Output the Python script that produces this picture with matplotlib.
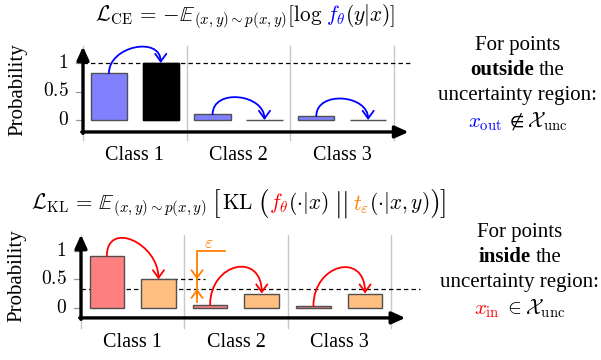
import matplotlib
matplotlib.use("Agg")
import matplotlib.pyplot as plt
from matplotlib.path import Path
from matplotlib.patches import FancyArrowPatch
from matplotlib.transforms import IdentityTransform

plt.rcParams['mathtext.fontset'] = 'cm'
plt.rcParams['font.family'] = ['Liberation Serif', 'DejaVu Serif']

# ---------------- data ----------------
classes = ["Class 1", "Class 2", "Class 3"]
ce_pred = [0.82, 0.10, 0.07]      # f_theta (outside region)
ce_target = [1.0, 0.0, 0.0]       # one-hot target
kl_pred = [0.91, 0.05, 0.03]      # f_theta (inside region)
kl_target = [0.50, 0.25, 0.25]    # t_eps target
uniform_level = 1 / 3
yticks = [0, 0.5, 1]
ytick_labels = ["$0$", "$0.5$", "$1$"]

W, H = 601, 360
fig = plt.figure(figsize=(W / 100, H / 100), dpi=100)

BLUE, RED, ORANGE = '#0000FF', '#FF0000', '#FF8000'
EDGE = '#505050'
SEP = '#c8c8c8'


def make_axes(x0, ux, y0, uy, rect_px):
    l, t, r, b = rect_px
    ax = fig.add_axes([l / W, 1 - b / H, (r - l) / W, (b - t) / H])
    ax.set_xlim((l - x0) / ux, (r - x0) / ux)
    ax.set_ylim((y0 - b) / uy, (y0 - t) / uy)
    ax.axis('off')
    return ax


def curved_arrow(ax, x0, y0, x1, y1, h, color):
    verts = [(x0, y0), (x0, y0 + h), (x1, y1 + h), (x1, y1)]
    codes = [Path.MOVETO, Path.CURVE4, Path.CURVE4, Path.CURVE4]
    p = FancyArrowPatch(path=Path(verts, codes),
                        arrowstyle='->,head_length=0.55,head_width=0.4',
                        mutation_scale=10, lw=1.3, color=color, zorder=6)
    ax.add_patch(p)


def draw_panel(ax, pred, target, pred_color, tgt_color, tgt_edge, arr_color,
               arc_h, axis_y, bar_w, ylab_pos):
    n = len(classes)
    # separators
    for k in range(n + 1):
        ax.plot([k, k], [-0.35, 1.29], color=SEP, lw=1.0, zorder=1)
    # axes arrows
    ax.annotate('', xy=(0, 1.29), xytext=(0, axis_y - 0.025),
                arrowprops=dict(arrowstyle='-|>,head_length=0.8,head_width=0.36',
                                mutation_scale=10, lw=2.4, color='k',
                                shrinkA=0, shrinkB=0), zorder=8)
    ax.annotate('', xy=(3.14, axis_y), xytext=(-0.012, axis_y),
                arrowprops=dict(arrowstyle='-|>,head_length=0.8,head_width=0.36',
                                mutation_scale=10, lw=2.4, color='k',
                                shrinkA=0, shrinkB=0), zorder=8)
    # y ticks
    for v, lab in zip(yticks, ytick_labels):
        ax.plot([-0.07, 0], [v, v], color='#999999', lw=0.9, zorder=2)
        ax.text(-0.14, v, lab, ha='right', va='center', fontsize=14)
    ax.text(ylab_pos[0], ylab_pos[1], "Probability", rotation=90,
            ha='center', va='center', fontsize=15)
    # bars
    xs = [k + 0.25 for k in range(n)]
    xt = [k + 0.75 for k in range(n)]
    ax.bar(xs, pred, width=bar_w, color=pred_color, edgecolor=EDGE, lw=1.0, zorder=4)
    ax.bar(xt, target, width=bar_w, color=tgt_color, edgecolor=tgt_edge, lw=1.0, zorder=4)
    for k in range(n):
        curved_arrow(ax, xs[k], pred[k], xt[k], target[k], arc_h[k], arr_color)
        ax.text(k + 0.5, -0.62, classes[k], ha='center', va='center', fontsize=14.5)


# ---------- top panel ----------
ax1 = make_axes(83, 103.7, 120, 57, (0, 30, 430, 170))
draw_panel(ax1, ce_pred, ce_target, '#8080FF', '#000000', [EDGE, EDGE, EDGE], BLUE,
           [0.48, 0.46, 0.45], -0.21, 0.35, (-0.63, 0.54))
ax1.bar([0.75], [ce_target[0]], width=0.35, color='k', edgecolor='k', lw=1.0, zorder=4.5)
ax1.plot([0, 3.17], [1, 1], color='k', lw=0.9, ls=(0, (3.5, 2.5)), zorder=3)

# ---------- bottom panel ----------
ax2 = make_axes(81, 103.3, 307.7, 56.7, (0, 215, 430, 355))
draw_panel(ax2, kl_pred, kl_target, '#FF8080', '#FFBF80', EDGE, RED,
           [0.64, 0.745, 0.745], -0.18, 0.335, (-0.62, 0.56))
ax2.plot([0, 3.28], [uniform_level, uniform_level], color='k', lw=0.9,
         ls=(0, (3.5, 2.5)), zorder=3)
ax2.plot([0.75, 1.2], [kl_target[0], kl_target[0]], color='k', lw=0.9,
         ls=(0, (3.5, 2.5)), zorder=3)
# epsilon marker
xe = 1.123
ax2.plot([xe, xe, 1.39], [0.1, 1.0, 1.0], color=ORANGE, lw=1.3, zorder=6,
         solid_joinstyle='miter')
for y_from, y_to in [(0.62, kl_target[0]), (0.2, uniform_level)]:
    ax2.annotate('', xy=(xe, y_to), xytext=(xe, y_from),
                 arrowprops=dict(arrowstyle='->,head_length=0.55,head_width=0.4',
                                 mutation_scale=10, lw=1.3, color=ORANGE,
                                 shrinkA=0, shrinkB=0), zorder=6)
ax2.text(1.24, 1.13, r'$\varepsilon$', color=ORANGE, ha='center', va='center', fontsize=13)

# ---------- text helpers ----------
renderer = fig.canvas.get_renderer()


def place_pieces(cx, baseline, pieces, size):
    objs = []
    total = 0
    for p in pieces:
        if isinstance(p, (int, float)):
            objs.append((None, p, 0))
            total += p
            continue
        s, color = p[0], p[1]
        kw = dict(p[2]) if len(p) > 2 else {}
        dy = kw.pop('dy', 0)
        fs = kw.pop('size', size)
        t = fig.text(0, 0, s, color=color, fontsize=fs, transform=IdentityTransform(),
                     ha='left', va='baseline', **kw)
        w = t.get_window_extent(renderer).width
        objs.append((t, w, dy))
        total += w
    x = cx - total / 2
    for t, w, dy in objs:
        if t is not None:
            t.set_position((x, H - baseline - dy))
        x += w


TS = 15.3
place_pieces(245, 21, [
    (r'$\mathcal{L}_{\mathrm{CE}}\,=\,{-}\mathbb{E}_{(x,y)\sim p(x,y)}[\log$', 'k'), 4,
    (r'$f_\theta$', BLUE),
    (r'$(y|x)]$', 'k'),
], TS)

place_pieces(238, 209, [
    (r'$\mathcal{L}_{\mathrm{KL}}\,=\,\mathbb{E}_{(x,y)\sim p(x,y)}$', 'k'), 6,
    (r'$[$', 'k', {'size': TS * 1.3, 'dy': 2}), 1,
    (r'$\mathrm{KL}$', 'k'), 5,
    (r'$($', 'k', {'size': TS * 1.3, 'dy': 2}),
    (r'$f_\theta$', RED),
    (r'$(\cdot|x)$', 'k'), 5,
    (r'$||$', 'k', {'size': TS * 1.3, 'dy': 2}), 5,
    (r'$t_\varepsilon$', ORANGE),
    (r'$(\cdot|x,y)$', 'k'),
    (r'$)$', 'k', {'size': TS * 1.3, 'dy': 2}),
    (r'$]$', 'k', {'size': TS * 1.3, 'dy': 2}),
], TS)

RS = 15
place_pieces(517.5, 50, [("For points", 'k')], RS)
place_pieces(517.5, 75, [("outside", 'k', {'weight': 'bold'}), 5, ("the", 'k')], RS)
place_pieces(517.5, 100, [("uncertainty region:", 'k')], RS)
place_pieces(517.5, 127, [(r'$x_{\mathrm{out}}$', BLUE), 4,
                          (r'$\notin \mathcal{X}_{\mathrm{unc}}$', 'k')], RS)

place_pieces(520, 237, [("For points", 'k')], RS)
place_pieces(520, 262, [("inside", 'k', {'weight': 'bold'}), 5, ("the", 'k')], RS)
place_pieces(520, 287, [("uncertainty region:", 'k')], RS)
place_pieces(520, 314, [(r'$x_{\mathrm{in}}$', RED), 4,
                        (r'$\in \mathcal{X}_{\mathrm{unc}}$', 'k')], RS)

fig.savefig("out.png", dpi=100)
